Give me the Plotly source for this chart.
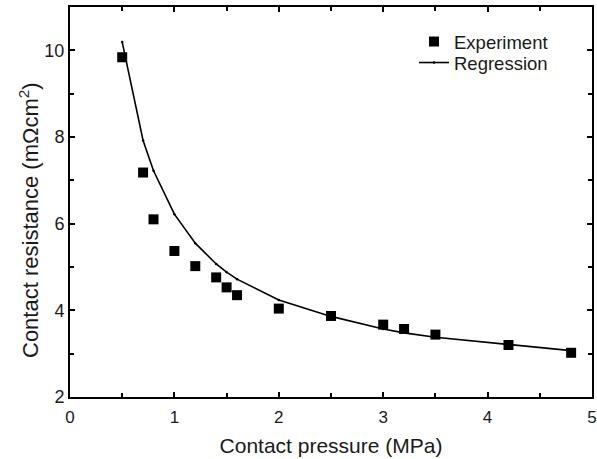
import plotly.graph_objects as go

pressure = [0.5, 0.7, 0.8, 1.0, 1.2, 1.4, 1.5, 1.6, 2.0, 2.5, 3.0, 3.2, 3.5, 4.2, 4.8]
experiment = [9.84, 7.18, 6.10, 5.37, 5.02, 4.76, 4.53, 4.35, 4.04, 3.87, 3.67, 3.57, 3.44, 3.20, 3.02]
regression = [10.19, 7.92, 7.22, 6.22, 5.55, 5.07, 4.88, 4.72, 4.24, 3.86, 3.57, 3.48, 3.38, 3.21, 3.07]

x_ticks = [0, 1, 2, 3, 4, 5]
y_ticks = [2, 4, 6, 8, 10]

x_title = "Contact pressure (MPa)"
y_title = "Contact resistance (mΩcm<sup>2</sup>)"

font_family = "Liberation Sans, Arial, sans-serif"
text_color = "#1a1a1a"

fig = go.Figure()
fig.add_trace(go.Scatter(
    x=pressure, y=experiment, mode="markers", name="Experiment",
    marker=dict(symbol="square", size=10, color="black"),
    legend="legend",
))
fig.add_trace(go.Scatter(
    x=pressure, y=regression, mode="lines+markers", name="Regression",
    line=dict(color="black", width=1.6),
    marker=dict(symbol="circle", size=2.5, color="black"),
    legend="legend2",
))

axis_common = dict(
    showline=True, linecolor="black", linewidth=2, mirror="allticks",
    ticks="inside", ticklen=5, tickwidth=1.5, tickcolor="black",
    showgrid=False, zeroline=False, automargin=False,
)

legend_common = dict(xanchor="left", yanchor="middle",
                     bgcolor="rgba(0,0,0,0)",
                     font=dict(family=font_family, size=18.5, color=text_color))

fig.update_layout(
    width=597, height=459,
    margin=dict(l=70, r=5, t=7, b=62),
    paper_bgcolor="white", plot_bgcolor="white",
    font=dict(family=font_family, size=17, color=text_color),
    showlegend=True,
    legend=dict(x=0.659, y=(397 - 42) / 390, **legend_common),
    legend2=dict(x=0.659, y=(397 - 63) / 390, **legend_common),
    xaxis=dict(range=[0, 5], tickvals=x_ticks, ticktext=[str(v) for v in x_ticks],
               tickfont=dict(family=font_family, size=17, color=text_color),
               ticklabelstandoff=4,
               minor=dict(dtick=0.5, ticks="inside", ticklen=4, tickwidth=1.5, tickcolor="black"),
               title=dict(text=x_title, standoff=12,
                          font=dict(family=font_family, size=21, color=text_color)),
               **axis_common),
    yaxis=dict(range=[2, 11], tickvals=y_ticks, ticktext=[str(v) for v in y_ticks],
               tickfont=dict(family=font_family, size=18, color=text_color),
               minor=dict(dtick=1, ticks="inside", ticklen=4, tickwidth=1.5, tickcolor="black"),
               **axis_common),
    annotations=[dict(
        text=y_title, textangle=-90, showarrow=False,
        xref="paper", yref="paper", x=(29 - 70) / 522, y=(397 - 220) / 390,
        xanchor="center", yanchor="middle",
        font=dict(family=font_family, size=22, color=text_color),
    )],
)

fig.write_html("out.html")
